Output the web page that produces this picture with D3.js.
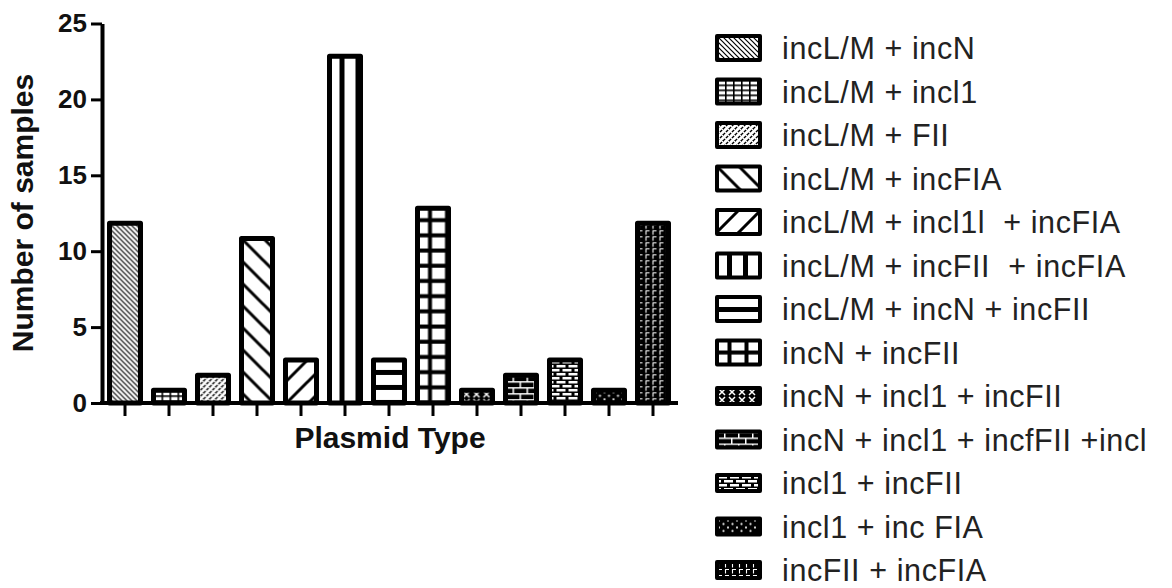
<!DOCTYPE html>
<html><head><meta charset="utf-8">
<script src="https://cdn.jsdelivr.net/npm/d3@7"></script>
<style>
body{margin:0;background:#fff}
svg{display:block}
text{font-family:"Liberation Sans",Arial,sans-serif}
</style>
</head><body>
<svg id="c" width="1172" height="588"></svg>
<script>
const categories = [
  "incL/M + incN",
  "incL/M + incl1",
  "incL/M + FII",
  "incL/M + incFIA",
  "incL/M + incl1l  + incFIA",
  "incL/M + incFII  + incFIA",
  "incL/M + incN + incFII",
  "incN + incFII",
  "incN + incl1 + incFII",
  "incN + incl1 + incfFII +incl",
  "incl1 + incFII",
  "incl1 + inc FIA",
  "incFII + incFIA"
];
const values = [12, 1, 2, 11, 3, 23, 3, 13, 1, 2, 3, 1, 12];
const yTicks = [0, 5, 10, 15, 20, 25];
const patternKinds = ["diagDense","smallGrid","dashSlash","wideBack","wideFwd","vlines","hlines","thickGrid","crossDark","plusDark","brickDark","dotDark","stepDark"];
const yTitle = "Number of samples";
const xTitle = "Plasmid Type";

const svg = d3.select("#c");
const defs = svg.append("defs");

function addPattern(id, kind, ox, oy) {
  const specs = {
    diagDense:{w:5,h:5,bg:"#fff"}, smallGrid:{w:8,h:5,bg:"#fff"}, dashSlash:{w:6,h:6,bg:"#fff"},
    wideBack:{w:22,h:22,bg:"#fff"}, wideFwd:{w:22,h:22,bg:"#fff"}, vlines:{w:16,h:10,bg:"#fff"},
    hlines:{w:10,h:15,bg:"#fff"}, thickGrid:{w:17,h:15.2,bg:"#fff"}, crossDark:{w:10,h:8,bg:"#000"},
    plusDark:{w:14,h:12,bg:"#000"}, brickDark:{w:12,h:8,bg:"#000"}, dotDark:{w:9,h:7,bg:"#000"},
    stepDark:{w:7,h:6,bg:"#000"}
  };
  const s = specs[kind];
  const p = defs.append("pattern").attr("id", id).attr("patternUnits","userSpaceOnUse")
    .attr("x", ox).attr("y", oy).attr("width", s.w).attr("height", s.h);
  p.append("rect").attr("width", s.w).attr("height", s.h).attr("fill", s.bg);
  const line = (d, c, w, dash) => { const e = p.append("path").attr("d", d).attr("stroke", c).attr("stroke-width", w).attr("fill","none"); if (dash) e.attr("stroke-dasharray", dash); };
  const box = (x, y, w, h, c) => p.append("rect").attr("x", x).attr("y", y).attr("width", w).attr("height", h).attr("fill", c);
  switch (kind) {
    case "diagDense": line("M0,0L5,5M-1,4L1,6M4,-1L6,1", "#000", 1.2); break;
    case "smallGrid": box(0,0,8,1.6,"#000"); box(0,0,1.6,5,"#000"); break;
    case "dashSlash": line("M0,6L6,0M-1,1L1,-1M5,7L7,5", "#000", 1.4, "3,1.2"); break;
    case "wideBack": line("M0,0L22,22M-2,20L2,24M20,-2L24,2", "#000", 3); break;
    case "wideFwd": line("M0,22L22,0M-2,2L2,-2M20,24L24,20", "#000", 3); break;
    case "vlines": box(10,0,5,10,"#000"); break;
    case "hlines": box(0,10,10,5,"#000"); break;
    case "thickGrid": box(10.5,0,4,15.2,"#000"); box(0,10,17,4,"#000"); break;
    case "crossDark": line("M2,1L8,7M8,1L2,7", "#fff", 1.5); break;
    case "plusDark": box(0,0,14,1.5,"#fff"); box(0,6,14,1.5,"#fff"); box(7,0,1.5,6,"#fff"); box(0,6,1.5,6,"#fff"); break;
    case "brickDark": box(1,1,9,2.5,"#fff"); box(-5,5,9,2.5,"#fff"); box(7,5,9,2.5,"#fff"); break;
    case "dotDark": p.append("circle").attr("cx",2).attr("cy",2).attr("r",1.1).attr("fill","#fff"); p.append("circle").attr("cx",6.5).attr("cy",5.5).attr("r",1.1).attr("fill","#fff"); break;
    case "stepDark": line("M1.5,5.5V1.5H5", "#fff", 1.1); break;
  }
}

const y = d3.scaleLinear().domain([0, 25]).range([403, 23.5]);
const x = d3.scaleBand().domain(categories).range([103, 675]).padding(0);
const barW = 31, barStroke = 5;

// bars
categories.forEach((c, i) => {
  const bx = x(c) + x.bandwidth() / 2 - barW / 2;
  const by = y(values[i]) + barStroke / 2;
  addPattern("pb" + i, patternKinds[i], bx, by);
});
svg.append("g").selectAll("rect").data(categories).join("rect")
  .attr("x", c => x(c) + x.bandwidth() / 2 - barW / 2)
  .attr("y", (c, i) => y(values[i]) + barStroke / 2)
  .attr("width", barW)
  .attr("height", (c, i) => y(0) - y(values[i]) - barStroke / 2)
  .attr("fill", (c, i) => `url(#pb${i})`)
  .attr("stroke", "#000").attr("stroke-width", barStroke).attr("stroke-linejoin", "round");

// y axis
const gy = svg.append("g").attr("transform", "translate(102,0)")
  .call(d3.axisLeft(y).tickValues(yTicks).tickSize(11).tickSizeOuter(0).tickPadding(4));
gy.select(".domain").attr("stroke", "#000").attr("stroke-width", 4);
gy.selectAll(".tick line").attr("stroke", "#000").attr("stroke-width", 3);
gy.selectAll(".tick text").attr("font-size", 26).attr("font-weight", "bold").attr("fill", "#111")
  .attr("font-family", '"Liberation Sans",Arial,sans-serif');

// x axis
const gx = svg.append("g").attr("transform", "translate(0,403)")
  .call(d3.axisBottom(x).tickSize(13).tickSizeOuter(0).tickFormat(""));
gx.select(".domain").attr("stroke", "#000").attr("stroke-width", 4).attr("d", "M100,0H678");
gx.selectAll(".tick line").attr("stroke", "#000").attr("stroke-width", 3);

// axis titles
svg.append("text").attr("transform", "translate(33,213) rotate(-90)")
  .attr("text-anchor", "middle").attr("font-size", 30).attr("font-weight", "bold").attr("fill", "#111")
  .text(yTitle);
svg.append("text").attr("x", 390).attr("y", 448)
  .attr("text-anchor", "middle").attr("font-size", 30).attr("font-weight", "bold").attr("fill", "#111")
  .text(xTitle);

// legend
const leg = svg.append("g");
categories.forEach((c, i) => {
  const cy = 48 + i * 43.5;
  const small = i >= 8;
  const h = small ? 16 : 24;
  const rx = 717, ry = cy - h / 2;
  addPattern("pl" + i, patternKinds[i], rx, ry);
  leg.append("rect").attr("x", rx).attr("y", ry).attr("width", 43).attr("height", h)
    .attr("fill", `url(#pl${i})`).attr("stroke", "#000").attr("stroke-width", 4).attr("stroke-linejoin", "round");
  leg.append("text").attr("x", 782).attr("y", cy).attr("dominant-baseline", "central")
    .attr("font-size", 30.5).attr("letter-spacing", 0.6).attr("fill", "#222").style("white-space", "pre").text(c);
});
</script>
</body></html>
